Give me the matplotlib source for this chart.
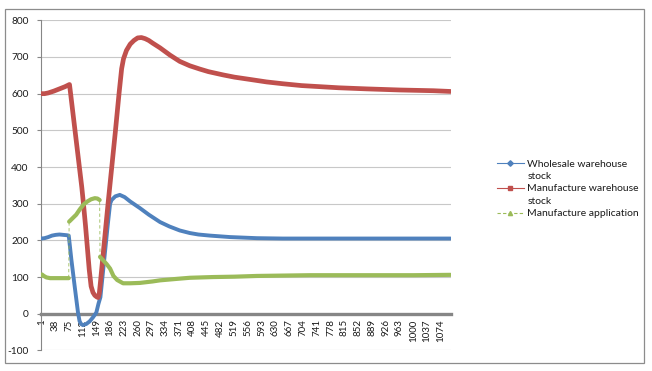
import numpy as np
import matplotlib.pyplot as plt
from matplotlib.lines import Line2D
from matplotlib.patches import Rectangle

#-------------------------------------------------------------------------
# data (time step -> value)

red_t = [1, 10, 20, 35, 50, 65, 77, 80, 90, 100, 110, 114, 120, 125, 130, 135,
         140, 145, 150, 154, 157, 160, 170, 181, 190, 200, 210, 217, 222, 230,
         240, 250, 260, 270, 280, 290, 300, 320, 347, 373, 400, 427, 450, 490,
         520, 560, 606, 650, 700, 750, 800, 875, 964, 1054, 1100]
red_v = [600, 600, 602, 607, 613, 619, 625, 600, 515, 430, 345, 305, 240, 180,
         120, 75, 58, 50, 46, 44, 55, 85, 190, 305, 395, 495, 600, 668, 695,
         718, 735, 745, 752, 753, 750, 745, 738, 725, 705, 688, 676, 667, 660,
         651, 645, 639, 632, 627, 622, 619, 616, 613, 610, 608, 606]

blue_t = [1, 10, 20, 30, 40, 50, 60, 70, 75, 82, 91, 100, 104, 108, 113, 122,
          131, 140, 149, 155, 160, 170, 180, 186, 190, 200, 212, 225, 240, 266,
          290, 320, 345, 373, 400, 423, 454, 508, 580, 650, 750, 850, 950,
          1050, 1100]
blue_v = [205, 206, 209, 213, 215, 216, 215, 214, 213, 148, 74, 2, -20, -28,
          -31, -28, -21, -10, 3, 28, 45, 145, 245, 300, 310, 320, 324, 318,
          306, 288, 270, 250, 238, 227, 220, 216, 213, 209, 206, 205, 205, 205,
          205, 205, 205]

green_t = [1, 3, 8, 15, 25, 40, 60, 75, 76, 85, 95, 105, 115, 125, 135, 145,
           152, 158, 159, 168, 177, 186, 195, 205, 212, 221, 240, 266, 300,
           320, 365, 400, 463, 520, 580, 650, 723, 800, 900, 1000, 1100]
green_v = [104, 107, 103, 99, 97, 97, 97, 97, 251, 260, 270, 285, 298, 306,
           312, 315, 314, 310, 155, 145, 135, 123, 103, 92, 88, 83, 83, 84, 88,
           91, 95, 98, 100, 101, 103, 104, 105, 105, 105, 105, 106]

names = ["Wholesale warehouse\nstock", "Manufacture warehouse\nstock", "Manufacture application"]

x_ticks = [1, 38, 75, 112, 149, 186, 223, 260, 297, 334, 371, 408, 445, 482,
           519, 556, 593, 630, 667, 704, 741, 778, 815, 852, 889, 926, 963,
           1000, 1037, 1074]
y_ticks = [-100, 0, 100, 200, 300, 400, 500, 600, 700, 800]

#-------------------------------------------------------------------------

blue = "#4F81BD"
red = "#C0504D"
green = "#9BBB59"
grid = "#c8c8c8"
axis_gray = "#868686"
txt = "#1a1a1a"

plt.rcParams["font.family"] = ["Lato", "DejaVu Sans"]
fs_y = 7.3
fs_x = 7.0
fs_leg = 7.5

W, H = 652, 371
fig = plt.figure(figsize = (W/100, H/100), dpi = 100)

# chart area border
fig.patches.append(Rectangle((4.7/W, 1 - 362.7/H), (644 - 4.7)/W, (362.7 - 8.5)/H,
                             transform = fig.transFigure, fill = False,
                             edgecolor = "#8c8c8c", linewidth = 0.9))

ax = fig.add_axes([41/W, 1 - 350.4/H, (450.7 - 41)/W, (350.4 - 20.3)/H])

ax.set_xlim(0.5, 1100.5)
ax.set_ylim(-100, 800)

for y in y_ticks:
    ax.axhline(y, color = grid, linewidth = 0.8, zorder = 0)

# series (blue under red under green)
ax.plot(blue_t, blue_v, color = blue, linewidth = 2.8, solid_capstyle = "round", zorder = 3)
ax.plot(red_t, red_v, color = red, linewidth = 3.4, solid_capstyle = "round", zorder = 4)

gt = np.array(green_t)
gv = np.array(green_v)
ax.plot(gt, gv, color = green, linewidth = 0.6, linestyle = (0, (4, 3)), zorder = 5)
breaks = np.where(np.abs(np.diff(gv)) > 100)[0] + 1
for seg_t, seg_v in zip(np.split(gt, breaks), np.split(gv, breaks)):
    ax.plot(seg_t, seg_v, color = green, linewidth = 3.0, solid_capstyle = "round", zorder = 6)

# axes
for s in ["top", "right"]:
    ax.spines[s].set_visible(False)
ax.spines["left"].set_color(axis_gray)
ax.spines["left"].set_linewidth(0.8)
ax.spines["bottom"].set_position(("data", 0))
ax.spines["bottom"].set_color(axis_gray)
ax.spines["bottom"].set_linewidth(2.4)
ax.spines["bottom"].set_zorder(2)

ax.set_yticks(y_ticks)
ax.set_yticklabels([str(v) for v in y_ticks], fontsize = fs_y, color = txt)
ax.tick_params(axis = "y", length = 3, width = 0.8, color = axis_gray, pad = 6)

ax.set_xticks(x_ticks)
ax.set_xticklabels([str(v) for v in x_ticks], rotation = 90, fontsize = fs_x, color = txt)
ax.tick_params(axis = "x", length = 0, pad = 4)

# legend (Excel style: wrapped labels, handle on the first line)
handles = [Line2D([], [], color = blue, linewidth = 0.8, marker = "D", markersize = 2.8),
           Line2D([], [], linestyle = "none"),
           Line2D([], [], color = red, linewidth = 0.8, marker = "s", markersize = 3),
           Line2D([], [], linestyle = "none"),
           Line2D([], [], color = green, linewidth = 0.8, linestyle = (0, (3, 2)), marker = "^", markersize = 3)]
labels = []
for n in names:
    labels += n.split("\n")

fig.legend(handles, labels, loc = "center left", bbox_to_anchor = (496.7/W, 1 - 188.7/H),
           frameon = False, fontsize = fs_leg, handlelength = 27/(fs_leg*1.389), handletextpad = 0.35,
           labelspacing = 0.3, borderpad = 0, borderaxespad = 0, numpoints = 1,
           labelcolor = txt)

plt.savefig("out.png", dpi = 100)
